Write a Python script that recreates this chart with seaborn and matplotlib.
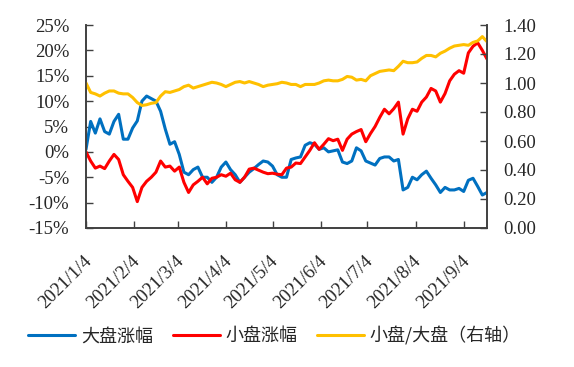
import matplotlib
matplotlib.use("Agg")  # 无头环境
import matplotlib.pyplot as plt
import matplotlib.ticker as mticker
import matplotlib.transforms as mtransforms
from matplotlib.font_manager import FontProperties
import seaborn as sns
import pandas as pd

# 大盘涨幅 (%)，每3个自然日读一个点
big_chg = [
    0.5, 6.0, 3.7, 6.5, 4.0, 3.5, 6.0, 7.4, 2.5, 2.5,
    4.7, 6.1, 10.0, 11.0, 10.5, 10.0, 8.0, 4.5, 1.5, 2.0,
    -0.5, -4.0, -4.5, -3.5, -3.0, -5.0, -5.0, -6.0, -5.0, -3.0,
    -2.0, -3.5, -4.5, -6.0, -5.0, -4.0, -3.3, -2.5, -1.8, -2.0,
    -2.8, -4.5, -5.0, -5.0, -1.5, -1.2, -1.0, 1.3, 1.8, 1.5,
    0.5, 0.8, 0.0, 0.2, 0.4, -2.0, -2.3, -1.8, 0.8, 0.2,
    -1.8, -2.2, -2.6, -1.3, -1.0, -1.0, -1.8, -1.5, -7.5, -7.0,
    -5.0, -5.5, -4.5, -3.8, -5.2, -6.5, -8.0, -7.0, -7.5, -7.5,
    -7.2, -7.8, -5.6, -5.2, -6.8, -8.5, -8.0,
]

# 小盘涨幅 (%)
small_chg = [
    0.0, -1.8, -3.2, -2.8, -3.3, -1.8, -0.5, -1.5, -4.5, -5.8,
    -7.0, -9.8, -7.0, -5.8, -5.0, -4.0, -1.8, -3.0, -2.8, -3.8,
    -3.0, -6.0, -8.0, -6.5, -5.8, -5.0, -6.3, -5.2, -5.0, -4.5,
    -4.8, -4.2, -5.5, -6.0, -5.0, -3.4, -3.2, -3.6, -4.0, -4.3,
    -4.2, -4.4, -4.5, -3.2, -3.0, -2.2, -2.3, -1.0, 0.3, 1.8,
    0.5, 1.5, 2.6, 2.2, 2.5, 0.3, 2.5, 3.5, 4.0, 4.4,
    2.0, 3.6, 5.0, 6.8, 8.4, 7.5, 8.5, 9.8, 3.5, 6.5,
    8.4, 8.0, 9.8, 10.8, 12.5, 12.0, 9.8, 11.5, 14.0, 15.3,
    16.0, 15.5, 19.5, 20.8, 21.5, 20.0, 18.3,
]

# 小盘/大盘 (右轴)
ratio = [
    1.00, 0.935, 0.925, 0.91, 0.93, 0.945, 0.945, 0.93, 0.925, 0.925,
    0.90, 0.865, 0.845, 0.85, 0.86, 0.865, 0.91, 0.94, 0.935, 0.945,
    0.955, 0.975, 0.985, 0.965, 0.975, 0.985, 0.995, 1.005, 1.00, 0.99,
    0.975, 0.99, 1.005, 1.01, 1.00, 1.01, 1.00, 0.99, 0.975, 0.985,
    0.99, 0.995, 1.005, 1.00, 0.99, 0.99, 0.975, 0.99, 0.99, 0.99,
    1.00, 1.015, 1.02, 1.015, 1.015, 1.025, 1.045, 1.04, 1.02, 1.025,
    1.015, 1.05, 1.065, 1.08, 1.085, 1.09, 1.085, 1.115, 1.15, 1.14,
    1.14, 1.145, 1.17, 1.19, 1.19, 1.18, 1.205, 1.22, 1.24, 1.255,
    1.26, 1.265, 1.26, 1.28, 1.29, 1.32, 1.285,
]

dates = pd.date_range("2021-01-04", periods=len(ratio), freq="3D")
tick_dates = pd.to_datetime([
    "2021-01-04", "2021-02-04", "2021-03-04", "2021-04-04", "2021-05-04",
    "2021-06-04", "2021-07-04", "2021-08-04", "2021-09-04",
])
tick_labels = [f"{d.year}/{d.month}/{d.day}" for d in tick_dates]
legend_labels = ["大盘涨幅", "小盘涨幅", "小盘/大盘（右轴）"]

df = pd.DataFrame({"date": dates, "big": big_chg, "small": small_chg, "ratio": ratio})

sns.set_style("ticks")
plt.rcParams["font.family"] = ["Liberation Serif", "DejaVu Serif"]

spine_color = "#404040"
fig = plt.figure(figsize=(5.74, 3.67), dpi=100)
ax = fig.add_axes([86 / 574, 1 - 228 / 367, 401 / 574, 203 / 367])

sns.lineplot(data=df, x="date", y="big", color="#0070C0", linewidth=2.2, ax=ax, legend=False)
sns.lineplot(data=df, x="date", y="small", color="#FF0000", linewidth=2.2, ax=ax, legend=False)

ax2 = ax.twinx()
sns.lineplot(data=df, x="date", y="ratio", color="#FFC000", linewidth=2.2, ax=ax2, legend=False)

# 坐标轴范围与刻度
ax.set_xlim(dates[0], dates[-1])
ax.set_ylim(-15, 25)
ax.set_yticks(range(-15, 26, 5))
ax.yaxis.set_major_formatter(mticker.FuncFormatter(lambda v, p: f"{v:.0f}%"))
ax2.set_ylim(0, 1.4)
ax2.set_yticks([0, 0.2, 0.4, 0.6, 0.8, 1.0, 1.2, 1.4])
ax2.yaxis.set_major_formatter(mticker.FuncFormatter(lambda v, p: f"{v:.2f}"))

ax.set_xticks(tick_dates, labels=tick_labels, rotation=45, ha="right", va="center",
              rotation_mode="anchor")
ax.set_xlabel("")
ax.set_ylabel("")
ax2.set_ylabel("")

ax.tick_params(axis="x", direction="in", length=5, width=1, color=spine_color,
               labelsize=13.5, pad=22)
ax.tick_params(axis="y", direction="in", length=5, width=1, color=spine_color,
               labelsize=13.5, pad=12)
ax2.tick_params(axis="y", direction="in", length=5, width=1, color=spine_color,
                labelsize=13.5, pad=12)

# 日期标签略向右移
shift = mtransforms.ScaledTranslation(3 / 100, 0, fig.dpi_scale_trans)
for lbl in ax.get_xticklabels():
    lbl.set_transform(lbl.get_transform() + shift)

for a in (ax, ax2):
    a.spines["top"].set_visible(False)
    for side in ("left", "right", "bottom"):
        a.spines[side].set_color(spine_color)
        a.spines[side].set_linewidth(1.2)
    a.grid(False)

# 图例放在图下方
handles = ax.get_lines()[:2] + ax2.get_lines()[:1]
fig.legend(handles, legend_labels, loc="center", bbox_to_anchor=(0.478, 0.085), ncol=3,
           frameon=False, prop=FontProperties(family=["Noto Sans CJK SC"], size=13),
           handlelength=2.6, handletextpad=0.3, columnspacing=1.1)

fig.savefig("out.png", dpi=100)
plt.close(fig)
